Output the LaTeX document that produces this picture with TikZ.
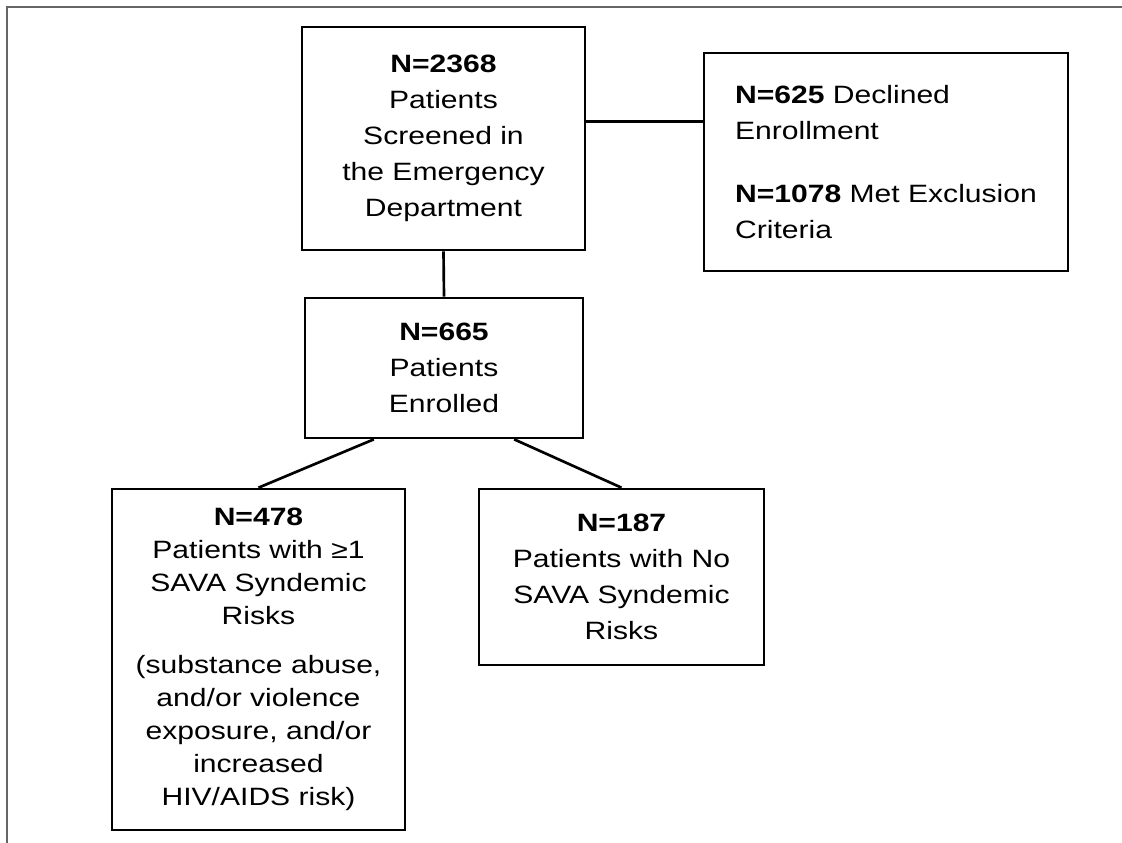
\documentclass[tikz,border=0pt]{standalone}
\usepackage{fontspec}
\setmainfont{Liberation Sans}[FakeStretch=1.2]
\usetikzlibrary{calc}

\begin{document}
\begin{tikzpicture}[x=0.75pt,y=-0.75pt,
		box/.style={draw,line width=2pt,inner sep=0pt,align=center,font=\fontsize{18.8}{27}\selectfont},
		link/.style={line width=2pt}]
		\useasboundingbox (0,0) rectangle (1122,843);
		\draw[line width=1.1pt,black!60] (7,843) -- (7,7) -- (1122,7);

		\node[box,minimum width=212.25pt,minimum height=167.25pt] (screened) at (443.5,138.5) {\textbf{N=2368}\\Patients\\Screened in\\the Emergency\\Department};
		\node[box,align=left,minimum width=273pt,minimum height=163.5pt] (excluded) at (886,162) {\textbf{N=625} Declined\\Enrollment\\[20pt]\textbf{N=1078} Met Exclusion\\Criteria};
		\node[box,minimum width=208.5pt,minimum height=105pt] (enrolled) at (444,368) {\textbf{N=665}\\Patients\\Enrolled};
		\node[box,font=\fontsize{18.8}{24.75}\selectfont,minimum width=219.75pt,minimum height=255.75pt] (riskyes) at (258.5,659.5) {\textbf{N=478}\\Patients with ≥1\\SAVA Syndemic\\Risks\\[12pt](substance abuse,\\and/or violence\\exposure, and/or\\increased\\HIV/AIDS risk)};
		\node[box,minimum width=213.75pt,minimum height=132pt] (riskno) at (621.5,577) {\textbf{N=187}\\Patients with No\\SAVA Syndemic\\Risks};

		\coordinate (sj) at ($(screened.north east)!0.426!(screened.south east)$);
		\draw[link] (sj) -- (sj -| excluded.west);
		\draw[link] (screened.south) -- (enrolled.north);
		\draw[link] ($(enrolled.south west)!0.25!(enrolled.south east)$) -- (riskyes.north);
		\draw[link] ($(enrolled.south west)!0.75!(enrolled.south east)$) -- (riskno.north);
	\end{tikzpicture}
\end{document}
